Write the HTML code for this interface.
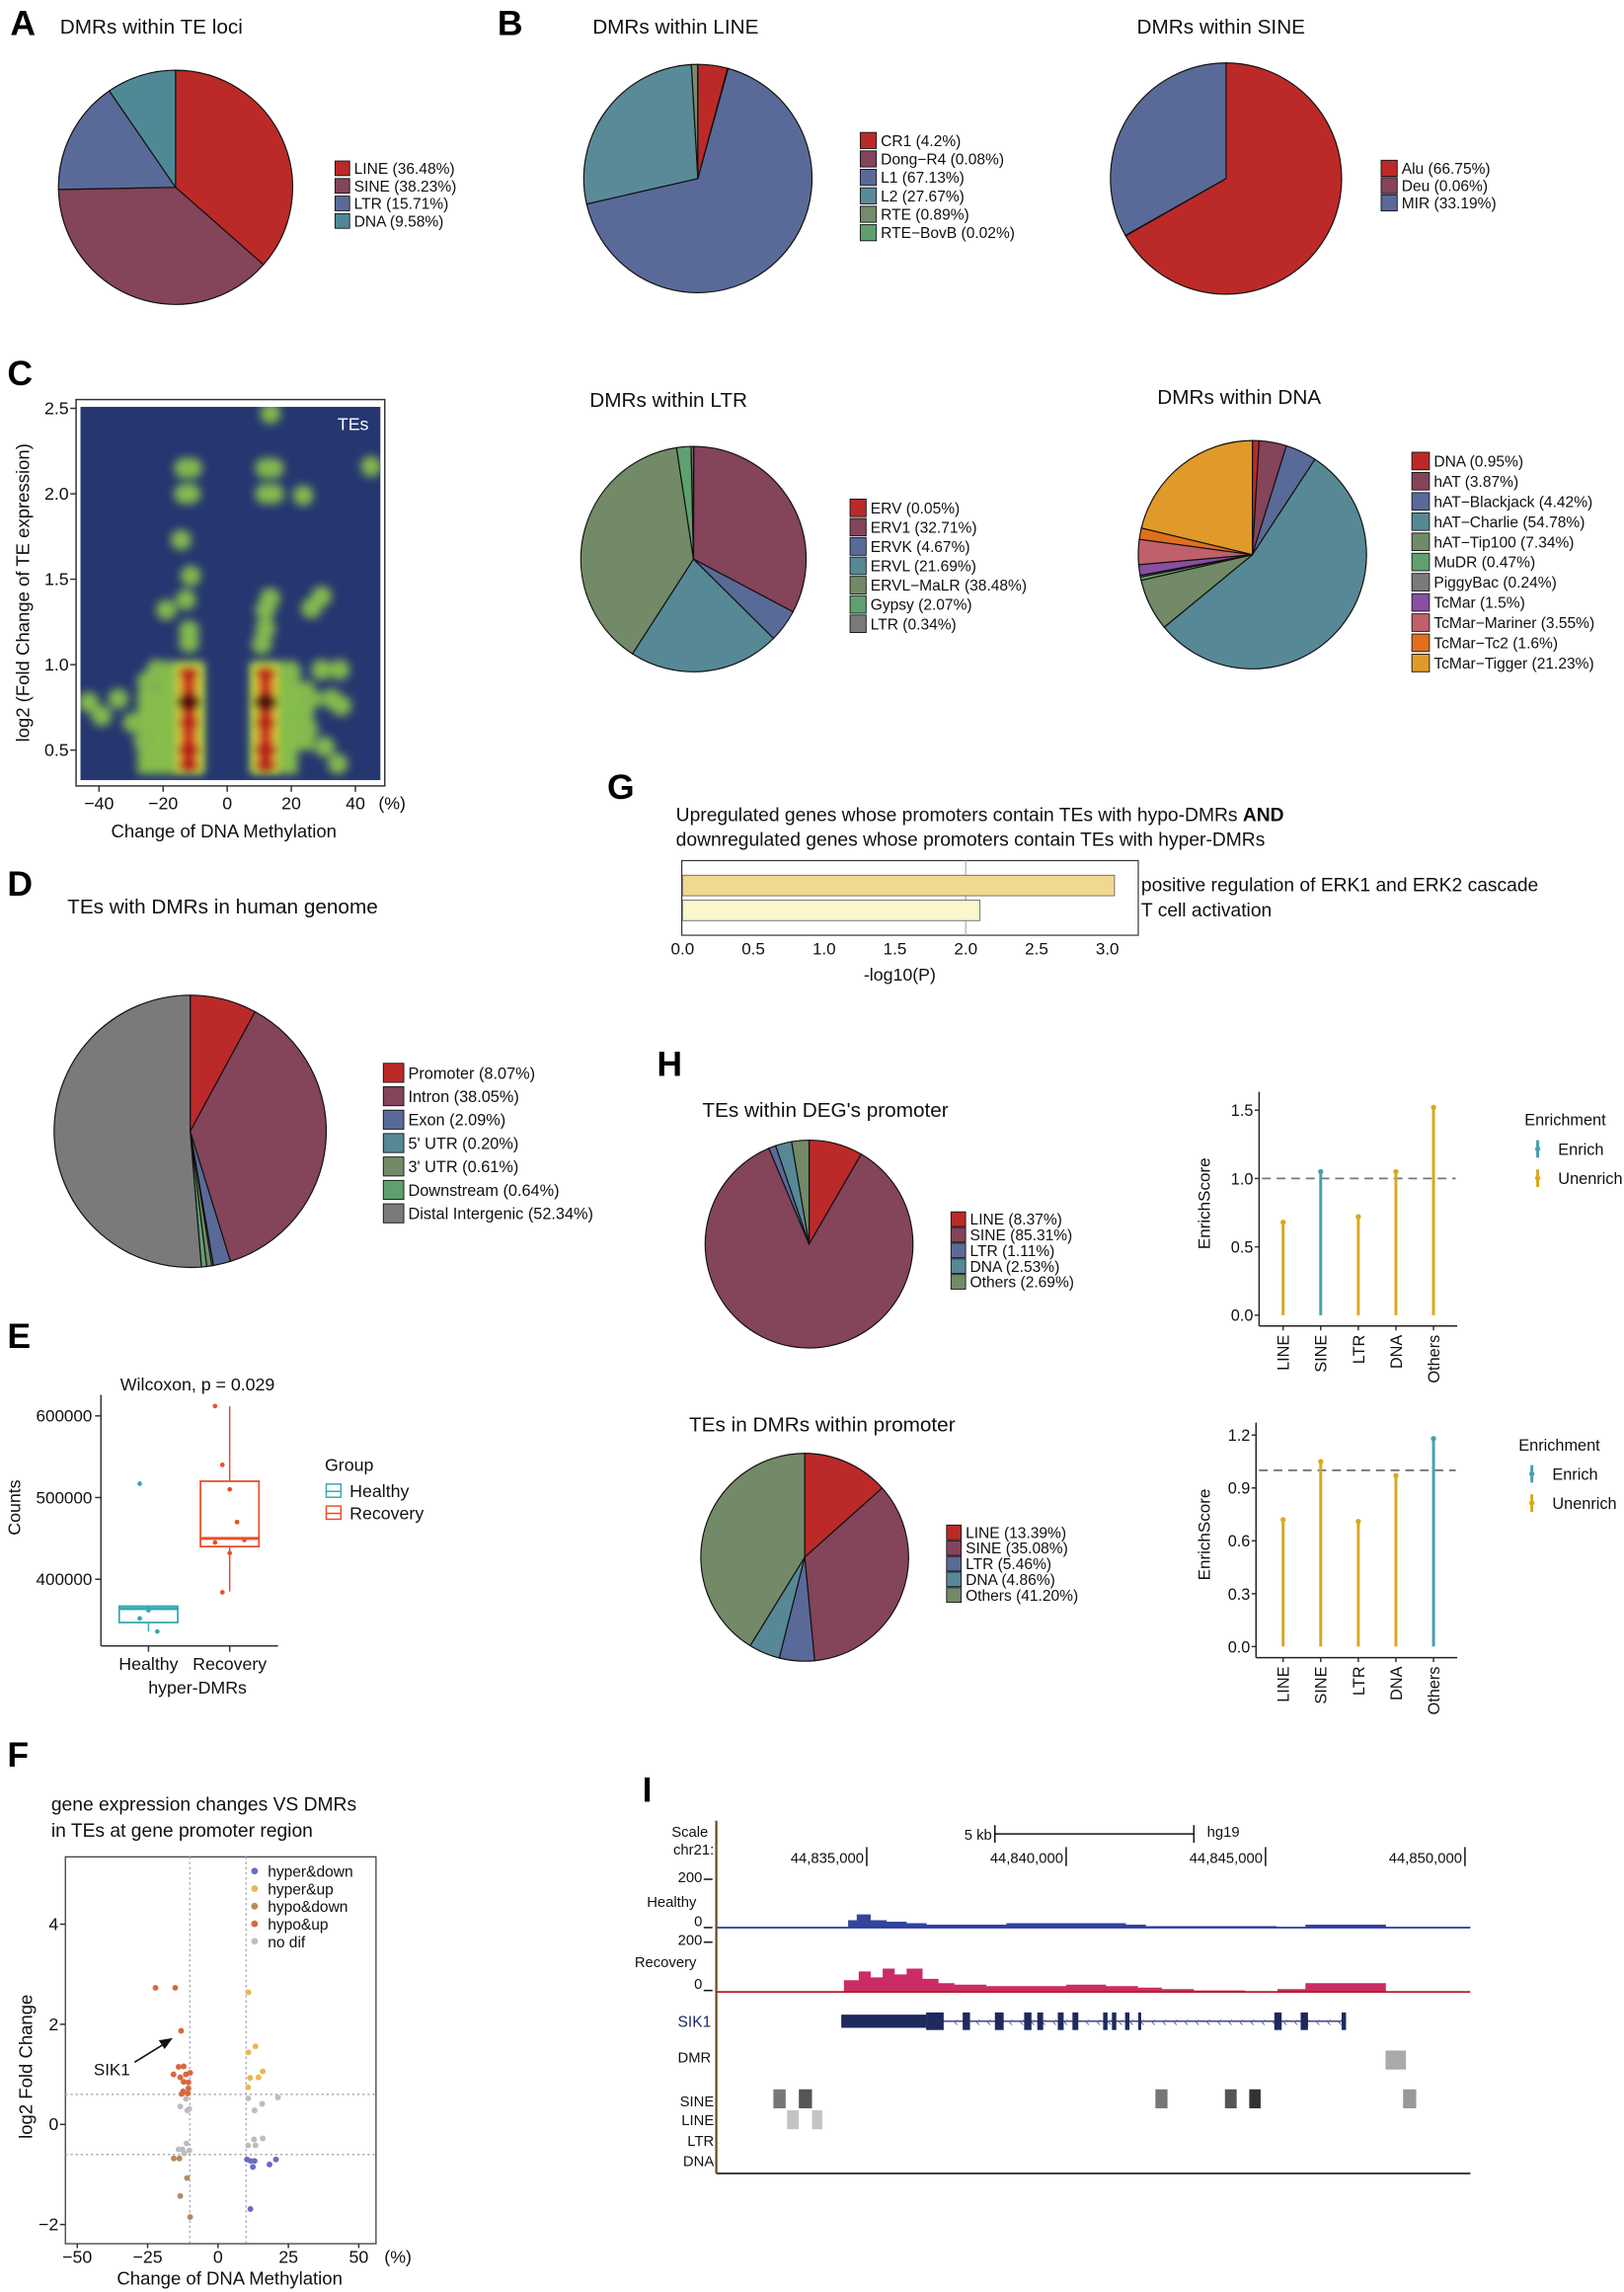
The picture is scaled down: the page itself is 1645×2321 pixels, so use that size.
<!DOCTYPE html>
<html><head><meta charset="utf-8"><style>
html,body{margin:0;padding:0;background:#fff}
svg{display:block;font-family:"Liberation Sans",Arial,sans-serif}
</style></head><body>
<svg id="fig" xmlns="http://www.w3.org/2000/svg" width="1645" height="2321" viewBox="0 0 1110 1566" preserveAspectRatio="none">
<defs>
<filter id="blur" x="-50%" y="-50%" width="200%" height="200%"><feGaussianBlur stdDeviation="3"/></filter>
<filter id="blur2" x="-50%" y="-50%" width="200%" height="200%"><feGaussianBlur stdDeviation="2.5"/></filter>
<clipPath id="heatclip"><rect x="55" y="278" width="205" height="255"/></clipPath>
</defs>
<g font-weight="bold" font-size="24" fill="#000">
<text x="7" y="24">A</text><text x="340" y="24">B</text><text x="5" y="263">C</text><text x="5" y="612">D</text><text x="5" y="921">E</text><text x="5" y="1207">F</text><text x="415" y="546">G</text><text x="449" y="735">H</text><text x="439" y="1231">I</text>
</g>
<g font-size="14" fill="#111">
<text x="41" y="23">DMRs within TE loci</text>
<text x="405" y="23">DMRs within LINE</text>
<text x="777" y="23">DMRs within SINE</text>
<text x="403" y="278">DMRs within LTR</text>
<text x="791" y="276">DMRs within DNA</text>
<text x="46" y="624">TEs with DMRs in human genome</text>
<text x="480" y="763">TEs within DEG's promoter</text>
<text x="471" y="978">TEs in DMRs within promoter</text>
</g>
<g id="pies"></g>
<g id="heat"></g>
<g id="boxE"></g>
<g id="scatF"></g>
<g id="barG"></g>
<g id="lolH"></g>
<g id="trackI"></g>
</svg>
<script>
// ---------- PIE DATA ----------
const pieA_labels=["LINE (36.48%)","SINE (38.23%)","LTR (15.71%)","DNA (9.58%)"];
const pieA_values=[36.48,38.23,15.71,9.58];
const pieLINE_labels=["CR1 (4.2%)","Dong\u2212R4 (0.08%)","L1 (67.13%)","L2 (27.67%)","RTE (0.89%)","RTE\u2212BovB (0.02%)"];
const pieLINE_values=[4.2,0.08,67.13,27.67,0.89,0.02];
const pieSINE_labels=["Alu (66.75%)","Deu (0.06%)","MIR (33.19%)"];
const pieSINE_values=[66.75,0.06,33.19];
const pieLTR_labels=["ERV (0.05%)","ERV1 (32.71%)","ERVK (4.67%)","ERVL (21.69%)","ERVL\u2212MaLR (38.48%)","Gypsy (2.07%)","LTR  (0.34%)"];
const pieLTR_values=[0.05,32.71,4.67,21.69,38.48,2.07,0.34];
const pieDNA_labels=["DNA (0.95%)","hAT (3.87%)","hAT\u2212Blackjack (4.42%)","hAT\u2212Charlie (54.78%)","hAT\u2212Tip100 (7.34%)","MuDR (0.47%)","PiggyBac (0.24%)","TcMar (1.5%)","TcMar\u2212Mariner (3.55%)","TcMar\u2212Tc2 (1.6%)","TcMar\u2212Tigger (21.23%)"];
const pieDNA_values=[0.95,3.87,4.42,54.78,7.34,0.47,0.24,1.5,3.55,1.6,21.23];
const pieD_labels=["Promoter (8.07%)","Intron (38.05%)","Exon (2.09%)","5' UTR (0.20%)","3' UTR (0.61%)","Downstream (0.64%)","Distal Intergenic (52.34%)"];
const pieD_values=[8.07,38.05,2.09,0.20,0.61,0.64,52.34];
const pieH1_labels=["LINE (8.37%)","SINE (85.31%)","LTR (1.11%)","DNA (2.53%)","Others (2.69%)"];
const pieH1_values=[8.37,85.31,1.11,2.53,2.69];
const pieH2_labels=["LINE (13.39%)","SINE (35.08%)","LTR (5.46%)","DNA (4.86%)","Others (41.20%)"];
const pieH2_values=[13.39,35.08,5.46,4.86,41.20];

const C5=["#bb2a28","#84445a","#5a6a98","#4f8996","#728a68"];
const C6=["#bb2a28","#84445a","#5a6a98","#5a8a98","#768a6c","#5fa070"];
const C3=["#bb2a28","#84445a","#5a6a98"];
const C7=["#bb2a28","#84445a","#5a6a98","#568896","#728a68","#5fa070","#7a7a7a"];
const C11=["#bb2a28","#84445a","#5a6a98","#568896","#728a68","#5fa070","#7a7a7a","#8a4fa0","#c0606a","#e0701e","#e09a2a"];
const CH=["#bb2a28","#84445a","#5a6a98","#568896","#728a68"];

const NS="http://www.w3.org/2000/svg";
function mk(tag,attrs,parent){const e=document.createElementNS(NS,tag);for(const k in attrs)e.setAttribute(k,attrs[k]);parent.appendChild(e);return e;}
function txt(s,attrs,parent){const e=mk("text",attrs,parent);e.textContent=s;return e;}

function pie(cx,cy,r,vals,cols,name){
  const g=document.getElementById("pies");
  const tot=vals.reduce((a,b)=>a+b,0);let a0=-Math.PI/2;
  vals.forEach((v,i)=>{
    const a1=a0+v/tot*2*Math.PI;
    const x0=cx+r*Math.cos(a0),y0=cy+r*Math.sin(a0),x1=cx+r*Math.cos(a1),y1=cy+r*Math.sin(a1);
    const large=(a1-a0)>Math.PI?1:0;
    const p=mk("path",{d:`M${cx},${cy}L${x0},${y0}A${r},${r} 0 ${large} 1 ${x1},${y1}Z`,fill:cols[i],stroke:"#111","stroke-width":0.8},g);
    
    
    a0=a1;
  });
}
function legend(x,y,dy,labels,cols,fs,sw,sh,name){
  const g=document.getElementById("pies");
  labels.forEach((l,i)=>{
    const r=mk("rect",{x:x,y:y+i*dy-sh/2,width:sw,height:sh,fill:cols[i],stroke:"#111","stroke-width":0.6},g);
    
    
    const t=txt(l,{x:x+sw+3,y:y+i*dy+fs*0.36,"font-size":fs,fill:"#111"},g);
    
    
  });
}
pie(120,128,80,pieA_values,C5,"pie-te-loci");legend(229,115,12,pieA_labels,C5,10.5,10,10,"legend-te-loci");
pie(477,122,78,pieLINE_values,C6,"pie-line");legend(588,96,12.6,pieLINE_labels,C6,10.5,11,11,"legend-line");
pie(838,122,79,pieSINE_values,C3,"pie-sine");legend(944,115,11.8,pieSINE_labels,C3,10.5,11,11,"legend-sine");
pie(474,382,77,pieLTR_values,C7,"pie-ltr");legend(581,347,13.2,pieLTR_labels,C7,10.5,11,12,"legend-ltr");
pie(856,379,78,pieDNA_values,C11,"pie-dna");legend(965,315,13.8,pieDNA_labels,C11,10.5,12,12,"legend-dna");
pie(130,773,93,pieD_values,C7,"pie-genome");legend(262,733,16,pieD_labels,C7,11,14,13,"legend-genome");
pie(553,850,71,pieH1_values,CH,"pie-deg-promoter");legend(650,833,10.7,pieH1_labels,CH,10.5,10,10,"legend-deg-promoter");
pie(550,1064,71,pieH2_values,CH,"pie-dmr-promoter");legend(647,1047,10.7,pieH2_labels,CH,10.5,10,10,"legend-dmr-promoter");

// ---------- PANEL C HEATMAP ----------
const heatXTicks=[-40,-20,0,20,40];
const heatYTicks=[0.5,1.0,1.5,2.0,2.5];
const blobX=[13.5,-13.4,-11,11.9,14.5,44.9,-13.4,-11.5,11.9,14.5,23.7,-14.4,-11.4,-12.9,-19,13.4,11.9,29.4,26.3,-11.9,-11.9,11.9,10.8,-43.3,-39.2,-29.4,-34,-25,35,29.4,35.6,32.5,30.4,34.5,26.3,25.3,-22,-26,20,23];
const blobY=[2.47,2.15,2.15,2.15,2.15,2.16,2.0,2.0,2.0,2.0,1.99,1.73,1.52,1.38,1.32,1.39,1.32,1.4,1.33,1.2,1.13,1.21,1.12,0.78,0.7,0.66,0.8,0.9,0.97,0.97,0.76,0.8,0.52,0.42,0.8,0.62,0.97,0.55,0.95,0.7];
const bandX0=[-28,-22,7,7];
const bandX1=[-7,-7,22,27];
const bandY0=[0.36,0.36,0.36,0.5];
const bandY1=[0.85,1.02,1.02,0.9];
const coreX=[-12,-12,-12,-12,-12,12,12,12,12,12];
const coreY=[0.78,0.5,0.41,0.95,0.66,0.78,0.5,0.41,0.95,0.66];
const coreW=[1.0,0.8,0.6,0.5,0.55,1.0,0.8,0.6,0.5,0.55];
(function(){
  const g=document.getElementById("heat");
  const X=v=>155.3+v*2.19, Y=v=>512.5-(v-0.5)*116.75;
  const fr=mk("rect",{x:52,y:273,width:211,height:264,fill:"#fff",stroke:"#333","stroke-width":1},g);
  
  
  const bg=mk("rect",{x:55,y:278,width:205,height:255,fill:"#263670"},g);
  
  
  const cg=mk("g",{"clip-path":"url(#heatclip)"},g);
  const gg=mk("g",{filter:"url(#blur)"},cg);
  bandX0.forEach((b,i)=>{
    const r=mk("rect",{x:X(b),y:Y(bandY1[i]),width:X(bandX1[i])-X(b),height:Y(bandY0[i])-Y(bandY1[i]),fill:"#86bd4c"},gg);
    
    
  });
  blobX.forEach((b,i)=>{
    const c=mk("circle",{cx:X(b),cy:Y(blobY[i]),r:7,fill:"#84b94e"},gg);
    
    
  });
  const g2=mk("g",{filter:"url(#blur2)"},cg);
  [-12,12].forEach(cx=>{
    const r=mk("rect",{x:X(cx)-9,y:Y(1.0),width:18,height:Y(0.37)-Y(1.0),fill:"#d6cc3a"},g2);
    
    
    const r2=mk("rect",{x:X(cx)-5,y:Y(0.98),width:10,height:Y(0.38)-Y(0.98),fill:"#cc3a22"},g2);
    
    
  });
  coreX.forEach((b,i)=>{
    const c=mk("ellipse",{cx:X(b),cy:Y(coreY[i]),rx:6+2*coreW[i],ry:4*coreW[i]+2,fill:coreW[i]>0.9?"#5a1010":"#b8241a"},g2);
    
    
  });
  txt("TEs",{x:252,y:294,"font-size":12,fill:"#fff","text-anchor":"end"},g);
  heatXTicks.forEach(v=>{
    const l=mk("line",{x1:X(v),x2:X(v),y1:537,y2:541,stroke:"#333"},g);
    
    
    const t=txt(v<0?"\u2212"+(-v):String(v),{x:X(v),y:553,"font-size":12,"text-anchor":"middle",fill:"#111"},g);
    
    
  });
  txt("(%)",{x:268,y:553,"font-size":12,"text-anchor":"middle",fill:"#111"},g);
  heatYTicks.forEach(v=>{
    const l=mk("line",{x1:48,x2:52,y1:Y(v),y2:Y(v),stroke:"#333"},g);
    
    
    const t=txt(v.toFixed(1),{x:47,y:Y(v)+4,"font-size":12,"text-anchor":"end",fill:"#111"},g);
    
    
  });
  txt("Change of DNA Methylation",{x:153,y:572,"font-size":12.5,"text-anchor":"middle",fill:"#111"},g);
  txt("log2 (Fold Change of TE expression)",{x:0,y:0,"font-size":12.5,"text-anchor":"middle",fill:"#111",transform:"translate(20,405) rotate(-90)"},g);
})();

// ---------- PANEL E BOXPLOT ----------
const boxGroups=["Healthy","Recovery"];
const boxMin=[336000,385000];
const boxQ1=[347000,440000];
const boxMed=[364000,450000];
const boxQ3=[367000,520000];
const boxMax=[367000,612000];
const ptsHealthy=[517000,365000,336000,352000,362000];
const ptsRecovery=[612000,540000,510000,470000,448000,445000,384000,432000];
const boxYTicks=[400000,500000,600000];
(function(){
  const g=document.getElementById("boxE");
  const Y=v=>1079-(v-400000)*0.000558, X=[101.5,157], col=["#3aa7b0","#e8502a"];
  txt("Wilcoxon, p = 0.029",{x:135,y:950,"font-size":12,"text-anchor":"middle",fill:"#111"},g);
  mk("line",{x1:69,x2:69,y1:953,y2:1124.6,stroke:"#333"},g);
  mk("line",{x1:69,x2:190,y1:1124.6,y2:1124.6,stroke:"#333"},g);
  boxYTicks.forEach(v=>{
    const l=mk("line",{x1:65,x2:69,y1:Y(v),y2:Y(v),stroke:"#333"},g);
    
    
    const t=txt(String(v),{x:63,y:Y(v)+4,"font-size":11.5,"text-anchor":"end",fill:"#111"},g);
    
    
  });
  boxGroups.forEach((n,i)=>{
    const x=X[i];
    const w=mk("line",{x1:x,x2:x,y1:Y(boxMax[i]),y2:Y(boxMin[i]),stroke:col[i]},g);
    
    
    const r=mk("rect",{x:x-20,y:Y(boxQ3[i]),width:40,height:Y(boxQ1[i])-Y(boxQ3[i]),fill:"#fff",stroke:col[i],"stroke-width":1.2},g);
    
    
    const m=mk("line",{x1:x-20,x2:x+20,y1:Y(boxMed[i]),y2:Y(boxMed[i]),stroke:col[i],"stroke-width":2}, g);
    
    
    const l=mk("line",{x1:x,x2:x,y1:1124.6,y2:1128.6,stroke:"#333"},g);
    
    
    const t=txt(n,{x:x,y:1141,"font-size":12,"text-anchor":"middle",fill:"#111"},g);
    
    
  });
  ptsHealthy.forEach((v,j)=>{
    const c=mk("circle",{cx:101.5+((j%3)-1)*6,cy:Y(v),r:1.6,fill:col[0]},g);
    
    
  });
  ptsRecovery.forEach((v,j)=>{
    const c=mk("circle",{cx:157+((j%5)-2)*5,cy:Y(v),r:1.6,fill:col[1]},g);
    
    
  });
  txt("hyper-DMRs",{x:135,y:1157,"font-size":12,"text-anchor":"middle",fill:"#111"},g);
  txt("Counts",{x:0,y:0,"font-size":12,"text-anchor":"middle",fill:"#111",transform:"translate(14,1030) rotate(-90)"},g);
  txt("Group",{x:222,y:1005,"font-size":12,fill:"#111"},g);
  ["Healthy","Recovery"].forEach((n,i)=>{
    const y=1019+i*15;
    mk("rect",{x:223,y:y-5,width:10,height:9,fill:"#fff",stroke:col[i]},g);
    mk("line",{x1:223,x2:233,y1:y,y2:y,stroke:col[i]},g);
    const t=txt(n,{x:239,y:y+4,"font-size":12,fill:"#111"},g);
    
    
  });
})();

// ---------- PANEL F SCATTER ----------
const scatCats=["hyper&down","hyper&up","hypo&down","hypo&up","no dif"];
const scatX=[-22.2,-15.2,-13.1,-14,-12.2,-15.8,-13.4,-11.4,-9.9,-12.2,-10.5,-10.5,-10.7,-12.9,-12.4,
 -11.4,-13.4,-10.9,-10.2,-11.2,-14,-12,-10.2,-12.6,
 -15.7,-13.7,-11,-13.4,-9.9,
 10.8,13.3,10.8,15.9,14.4,11.4,10.7,
 10.7,21.3,15.7,13,15.9,12.8,13.3,10.7,
 10.3,11.6,13,12.4,18.3,20.6,11.5];
const scatY=[2.73,2.73,1.87,1.15,1.16,1.0,0.94,1.0,1.03,0.85,0.84,0.72,0.62,0.61,0.66,
 0.51,0.36,0.28,0.31,-0.38,-0.5,-0.58,-0.52,-0.5,
 -0.68,-0.68,-1.07,-1.43,-1.85,
 2.64,1.56,1.44,1.06,0.94,0.93,0.74,
 0.52,0.54,0.41,0.28,-0.28,-0.3,-0.42,-0.42,
 -0.7,-0.73,-0.73,-0.85,-0.8,-0.7,-1.69];
const scatC=[3,3,3,3,3,3,3,3,3,3,3,3,3,3,3,
 4,4,4,4,4,4,4,4,4,
 2,2,2,2,2,
 1,1,1,1,1,1,1,
 4,4,4,4,4,4,4,4,
 0,0,0,0,0,0,0];
const scatXTicks=[-50,-25,0,25,50];
const scatYTicks=[-2,0,2,4];
(function(){
  const g=document.getElementById("scatF");
  const X=v=>149+v*1.924, Y=v=>1451.5-v*34.2;
  const col=["#6a6ac4","#e8b850","#b98a5a","#d9683e","#bdbdbd"];
  txt("gene expression changes VS DMRs",{x:35,y:1237,"font-size":13,fill:"#111"},g);
  txt("in TEs at gene promoter region",{x:35,y:1255,"font-size":13,fill:"#111"},g);
  const fr=mk("rect",{x:44.7,y:1268.7,width:212.3,height:264.3,fill:"none",stroke:"#444","stroke-width":0.9},g);
  
  
  [-10,10].forEach(v=>mk("line",{x1:X(v),x2:X(v),y1:1268.7,y2:1533,stroke:"#aab","stroke-dasharray":"1.5,2"},g));
  [0.6,-0.6].forEach(v=>mk("line",{x1:44.7,x2:257,y1:Y(v),y2:Y(v),stroke:"#aab","stroke-dasharray":"1.5,2"},g));
  scatXTicks.forEach(v=>{
    const t=txt(v<0?"\u2212"+(-v):String(v),{x:X(v),y:1546,"font-size":12,"text-anchor":"middle",fill:"#111"},g);
    
    
    mk("line",{x1:X(v),x2:X(v),y1:1533,y2:1536,stroke:"#333"},g);
  });
  txt("(%)",{x:272,y:1546,"font-size":12,"text-anchor":"middle",fill:"#111"},g);
  scatYTicks.forEach(v=>{
    const t=txt(v<0?"\u2212"+(-v):String(v),{x:40,y:Y(v)+4,"font-size":12,"text-anchor":"end",fill:"#111"},g);
    
    
    mk("line",{x1:41,x2:44.7,y1:Y(v),y2:Y(v),stroke:"#333"},g);
  });
  scatX.forEach((v,i)=>{
    const c=mk("circle",{cx:X(v),cy:Y(scatY[i]),r:2,fill:col[scatC[i]]},g);
    
    
  });
  scatCats.forEach((n,i)=>{
    const c=mk("circle",{cx:174,cy:1278.4+i*12,r:2.3,fill:col[i]},g);
    
    
    const t=txt(n,{x:183,y:1282.4+i*12,"font-size":10.5,fill:"#111"},g);
    
    
  });
  mk("line",{x1:92,x2:113,y1:1409,y2:1396,stroke:"#111","stroke-width":1.1},g);
  mk("path",{d:"M118,1392.5 L108.5,1394 L112.5,1400 Z",fill:"#111"},g);
  txt("SIK1",{x:64,y:1418,"font-size":11.5,fill:"#111"},g);
  txt("Change of DNA Methylation",{x:157,y:1561,"font-size":12.5,"text-anchor":"middle",fill:"#111"},g);
  txt("log2 Fold Change",{x:0,y:0,"font-size":12.5,"text-anchor":"middle",fill:"#111",transform:"translate(22,1412) rotate(-90)"},g);
})();

// ---------- PANEL G BARS ----------
const barTerms=["positive regulation of ERK1 and ERK2 cascade","T cell activation"];
const barValues=[3.05,2.1];
const barTicks=[0.0,0.5,1.0,1.5,2.0,2.5,3.0];
(function(){
  const g=document.getElementById("barG");
  const X=v=>466.5+v*96.8;
  const t1=txt("Upregulated genes whose promoters contain TEs with hypo-DMRs ",{x:462,y:561,"font-size":13,fill:"#111"},g);
  const b=document.createElementNS(NS,"tspan");b.setAttribute("font-weight","bold");b.textContent="AND";t1.appendChild(b);
  txt("downregulated genes whose promoters contain TEs with hyper-DMRs",{x:462,y:578,"font-size":13,fill:"#111"},g);
  mk("rect",{x:466,y:588,width:312,height:51,fill:"#fff",stroke:"#333","stroke-width":0.8},g);
  mk("line",{x1:X(2),x2:X(2),y1:588,y2:639,stroke:"#bbb"},g);
  const cols=["#f0d890","#fbf6cc"];
  barValues.forEach((v,i)=>{
    const r=mk("rect",{x:466.5,y:598+i*17,width:X(v)-466.5,height:14,fill:cols[i],stroke:"#666","stroke-width":0.6},g);
    
    
    const t=txt(barTerms[i],{x:780,y:609+i*17,"font-size":13,fill:"#111"},g);
    
    
  });
  barTicks.forEach(v=>{
    const t=txt(v.toFixed(1),{x:X(v),y:652,"font-size":11.5,"text-anchor":"middle",fill:"#111"},g);
    
    
  });
  txt("-log10(P)",{x:615,y:670,"font-size":12,"text-anchor":"middle",fill:"#111"},g);
})();

// ---------- PANEL H ENRICH ----------
const enrichCats=["LINE","SINE","LTR","DNA","Others"];
const enrich1Vals=[0.68,1.05,0.72,1.05,1.52];
const enrich1Flag=[0,1,0,0,0];
const enrich1Ticks=[0.0,0.5,1.0,1.5];
const enrich2Vals=[0.72,1.05,0.71,0.97,1.18];
const enrich2Flag=[0,0,0,0,1];
const enrich2Ticks=[0.0,0.3,0.6,0.9,1.2];
(function(){
  const g=document.getElementById("lolH");
  const col=["#d8a820","#4a9fac"];
  function plot(ax,y0,scale,vals,flag,ticks,top,bot,prefix,legX,legY){
    const Y=v=>y0-v*scale, X=i=>877+i*25.7;
    mk("line",{x1:ax,x2:ax,y1:top,y2:bot,stroke:"#222"},g);
    mk("line",{x1:ax,x2:996,y1:bot,y2:bot,stroke:"#222"},g);
    mk("line",{x1:ax+2,x2:995,y1:Y(1),y2:Y(1),stroke:"#777","stroke-dasharray":"6,4","stroke-width":1.2},g);
    ticks.forEach(v=>{
      mk("line",{x1:ax-3,x2:ax,y1:Y(v),y2:Y(v),stroke:"#333"},g);
      const t=txt(v.toFixed(1),{x:ax-4,y:Y(v)+4,"font-size":11,"text-anchor":"end",fill:"#111"},g);
      
      
    });
    vals.forEach((v,i)=>{
      const c=col[flag[i]];
      const l=mk("line",{x1:X(i),x2:X(i),y1:Y(0),y2:Y(v),stroke:c,"stroke-width":2},g);
      
      
      const d=mk("circle",{cx:X(i),cy:Y(v),r:1.8,fill:c},g);
      
      
      mk("line",{x1:X(i),x2:X(i),y1:bot,y2:bot+3,stroke:"#333"},g);
      const t=txt(enrichCats[i],{x:0,y:0,"font-size":11,"text-anchor":"end",fill:"#111",transform:`translate(${X(i)+4},${bot+6}) rotate(-90)`},g);
      
      
    });
    txt("EnrichScore",{x:0,y:0,"font-size":11.5,"text-anchor":"middle",fill:"#111",transform:`translate(827,${(top+y0)/2}) rotate(-90)`},g);
    txt("Enrichment",{x:legX,y:legY+4,"font-size":11,fill:"#111"},g);
    ["Enrich","Unenrich"].forEach((n,i)=>{
      const yy=legY+20*(i+1);
      mk("line",{x1:legX+9,x2:legX+9,y1:yy-6,y2:yy+6,stroke:col[1-i],"stroke-width":2},g);
      mk("circle",{cx:legX+9,cy:yy,r:1.8,fill:col[1-i]},g);
      const t=txt(n,{x:legX+23,y:yy+4,"font-size":11,fill:"#111"},g);
      
      
    });
  }
  plot(860.6,898.6,93.4,enrich1Vals,enrich1Flag,enrich1Ticks,746,906,"enrich-deg",1042,765);
  plot(858.5,1125,120.4,enrich2Vals,enrich2Flag,enrich2Ticks,972,1132.6,"enrich-dmr",1038,987);
})();

// ---------- PANEL I GENOME BROWSER ----------
const coordTicks=[44835000,44840000,44845000,44850000];
const utrStart=[44834362];
const utrEnd=[44836489];
const exonStarts=[44836489,44837406,44838214,44838947,44839277,44839791,44840158,44840928,44841148,44841478,44841808,44845220,44845880,44846908];
const exonEnds=[44836930,44837590,44838434,44839131,44839424,44839938,44840305,44841038,44841258,44841588,44841882,44845404,44846064,44847018];
const healthyX=[44834534,44834750,44835100,44835500,44836000,44836500,44837500,44838500,44839500,44840500,44841500,44842000,44845282,44846000];
const healthyH=[5,9,5,4,3,2,2,3,3,3,2,1,0,2];
const recoveryX=[44834428,44834800,44835100,44835400,44835700,44836000,44836400,44836800,44837200,44838000,44839000,44840000,44841000,44841800,44842400,44843200,44844486,44845300,44846000];
const recoveryH=[8,14,10,16,12,16,9,6,5,4,4,5,4,3,2,1,0,2,6];
const sineStart=[44832660,44833298,44842238,44843982,44844591,44848448];
const sineEnd=[44832968,44833628,44842542,44844276,44844877,44848778];
const sineShade=["#777","#555","#777","#555","#333","#999"];
const lineStart=[44833004,44833628];
const lineEnd=[44833298,44833885];
const dmrStart=[44848008];
const dmrEnd=[44848521];
(function(){
  const g=document.getElementById("trackI");
  const X=v=>592.4+(v-44835000)*0.02726;
  mk("line",{x1:489.6,x2:489.6,y1:1244,y2:1485,stroke:"#6b4a20","stroke-width":1.5},g);
  mk("line",{x1:489.6,x2:1005,y1:1485,y2:1485,stroke:"#444","stroke-width":1.4},g);
  const lab=(s,x,y,fs,c,anchor)=>{const t=txt(s,{x:x,y:y,"font-size":fs||10,fill:c||"#111","text-anchor":anchor||"end"},g);return t;};
  lab("Scale",484,1255);lab("chr21:",488,1267);
  lab("5 kb",678,1257);
  mk("line",{x1:680,x2:816,y1:1253,y2:1253,stroke:"#111"},g);
  mk("line",{x1:680,x2:680,y1:1247,y2:1259,stroke:"#111"},g);
  mk("line",{x1:816,x2:816,y1:1247,y2:1259,stroke:"#111"},g);
  lab("hg19",825,1255,10,"#111","start");
  coordTicks.forEach(v=>{
    const t=lab(v.toLocaleString("en-US"),X(v)-2,1273);
    
    
    mk("line",{x1:X(v),x2:X(v),y1:1262,y2:1275,stroke:"#111"},g);
  });
  lab("200",480,1286);lab("Healthy",476,1303);lab("0",480,1316);
  mk("line",{x1:481,x2:487,y1:1284,y2:1284,stroke:"#111"},g);mk("line",{x1:481,x2:487,y1:1317,y2:1317,stroke:"#111"},g);
  lab("200",480,1329);lab("Recovery",476,1344);lab("0",480,1359);
  mk("line",{x1:481,x2:487,y1:1327,y2:1327,stroke:"#111"},g);mk("line",{x1:481,x2:487,y1:1360,y2:1360,stroke:"#111"},g);
  function cov(xs,hs,base,fill,name){
    let d=`M${X(xs[0])},${base}`;
    xs.forEach((x,i)=>{const x2=i<xs.length-1?xs[i+1]:44848018;d+=`L${X(x)},${base-hs[i]}L${X(x2)},${base-hs[i]}`;});
    d+=`L${X(44848018)},${base}Z`;
    const p=mk("path",{d:d,fill:fill},g);
    
    
  }
  cov(healthyX,healthyH,1317,"#34449a","healthy-coverage");
  cov(recoveryX,recoveryH,1361,"#cc2c66","recovery-coverage");
  mk("line",{x1:490,x2:1005,y1:1317,y2:1317,stroke:"#2838a0","stroke-width":1.2},g);
  mk("line",{x1:490,x2:1005,y1:1361,y2:1361,stroke:"#b02030","stroke-width":1.2},g);
  lab("SIK1",486,1385,10.5,"#1a2a6a");
  mk("line",{x1:X(44834362),x2:X(44847018),y1:1381,y2:1381,stroke:"#2a3570","stroke-width":1},g);
  for(let x=652;x<915;x+=7.5){txt("\u2039",{x:x,y:1384,"font-size":9,fill:"#5a5fa0"},g);}
  utrStart.forEach((s,i)=>{
    const r=mk("rect",{x:X(s),y:1376.5,width:X(utrEnd[i])-X(s),height:9,fill:"#1e2a5e"},g);
    
    
  });
  exonStarts.forEach((s,i)=>{
    const r=mk("rect",{x:X(s),y:1375,width:Math.max(2,X(exonEnds[i])-X(s)),height:12,fill:"#1e2a5e"},g);
    
    
  });
  lab("DMR",486,1409);
  dmrStart.forEach((s,i)=>{const r=mk("rect",{x:X(s),y:1401,width:X(dmrEnd[i])-X(s),height:13,fill:"#aaa"},g);
    
    });
  lab("SINE",488,1439);lab("LINE",488,1452);lab("LTR",488,1466);lab("DNA",488,1480);
  sineStart.forEach((s,i)=>{const r=mk("rect",{x:X(s),y:1427.5,width:X(sineEnd[i])-X(s),height:13,fill:sineShade[i]},g);
    
    });
  lineStart.forEach((s,i)=>{const r=mk("rect",{x:X(s),y:1441.8,width:X(lineEnd[i])-X(s),height:13,fill:"#c4c4c4"},g);
    
    });
})();
</script>
</body></html>
